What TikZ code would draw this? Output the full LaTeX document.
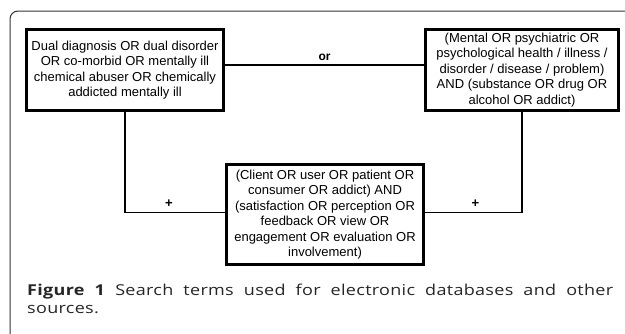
\documentclass[tikz,border=0pt]{standalone}
\usepackage{fontspec}
\setmainfont{Liberation Sans}
\newfontfamily\capfont[FakeStretch=1.2,LetterSpace=2]{Open Sans}

\begin{document}
\begin{tikzpicture}
  [x=1pt,y=-1pt,
   termbox/.style={draw,line width=2.6pt,inner sep=0pt,align=center,
     font=\fontsize{13}{15.5}\selectfont},
   link/.style={draw,line width=1.2pt},
   plus/.style={above,inner sep=4pt,font=\bfseries\fontsize{13}{15}\selectfont}
  ]
  \useasboundingbox (0,0) rectangle (625,333);

  % frame
  \draw[line width=1pt,black!80,rounded corners=8pt] (626,11) -- (10,11) -- (10,334);

  % term boxes
  \node[termbox,minimum width=197.4,minimum height=81.4] (diag) at (125,70)
    {Dual diagnosis OR dual disorder\\ OR co-morbid OR mentally ill\\
     chemical abuser OR chemically\\ addicted mentally ill};
  \node[termbox,minimum width=193.4,minimum height=81.4] (ment) at (522,70)
    {(Mental OR psychiatric OR\\ psychological health / illness /\\
     disorder / disease / problem)\\ AND (substance OR drug OR\\ alcohol OR addict)};
  \node[termbox,minimum width=197.4,minimum height=100.4] (client) at (325,214.5)
    {(Client OR user OR patient OR\\ consumer OR addict) AND\\
     (satisfaction OR perception OR\\ feedback OR view OR\\
     engagement OR evaluation OR\\ involvement)};

  %connections
  \draw[link] ([yshift=5pt]diag.east) -- node[above,font=\bfseries\fontsize{12}{14}\selectfont]{or} ([yshift=5pt]ment.west);
  \draw[link] (diag.south) |- node[plus,pos=0.72]{+} ([yshift=2pt]client.west);
  \draw[link] (ment.south) |- node[plus,pos=0.74]{+} ([yshift=2pt]client.east);

  % caption
  \node[anchor=north west,inner sep=0pt,text width=586pt,align=justify,
    font=\capfont\fontsize{15}{18}\selectfont,black!85] (cap) at (27,284)
    {\textbf{Figure 1} Search terms used for electronic databases and other\linebreak sources.};
\end{tikzpicture}
\end{document}
